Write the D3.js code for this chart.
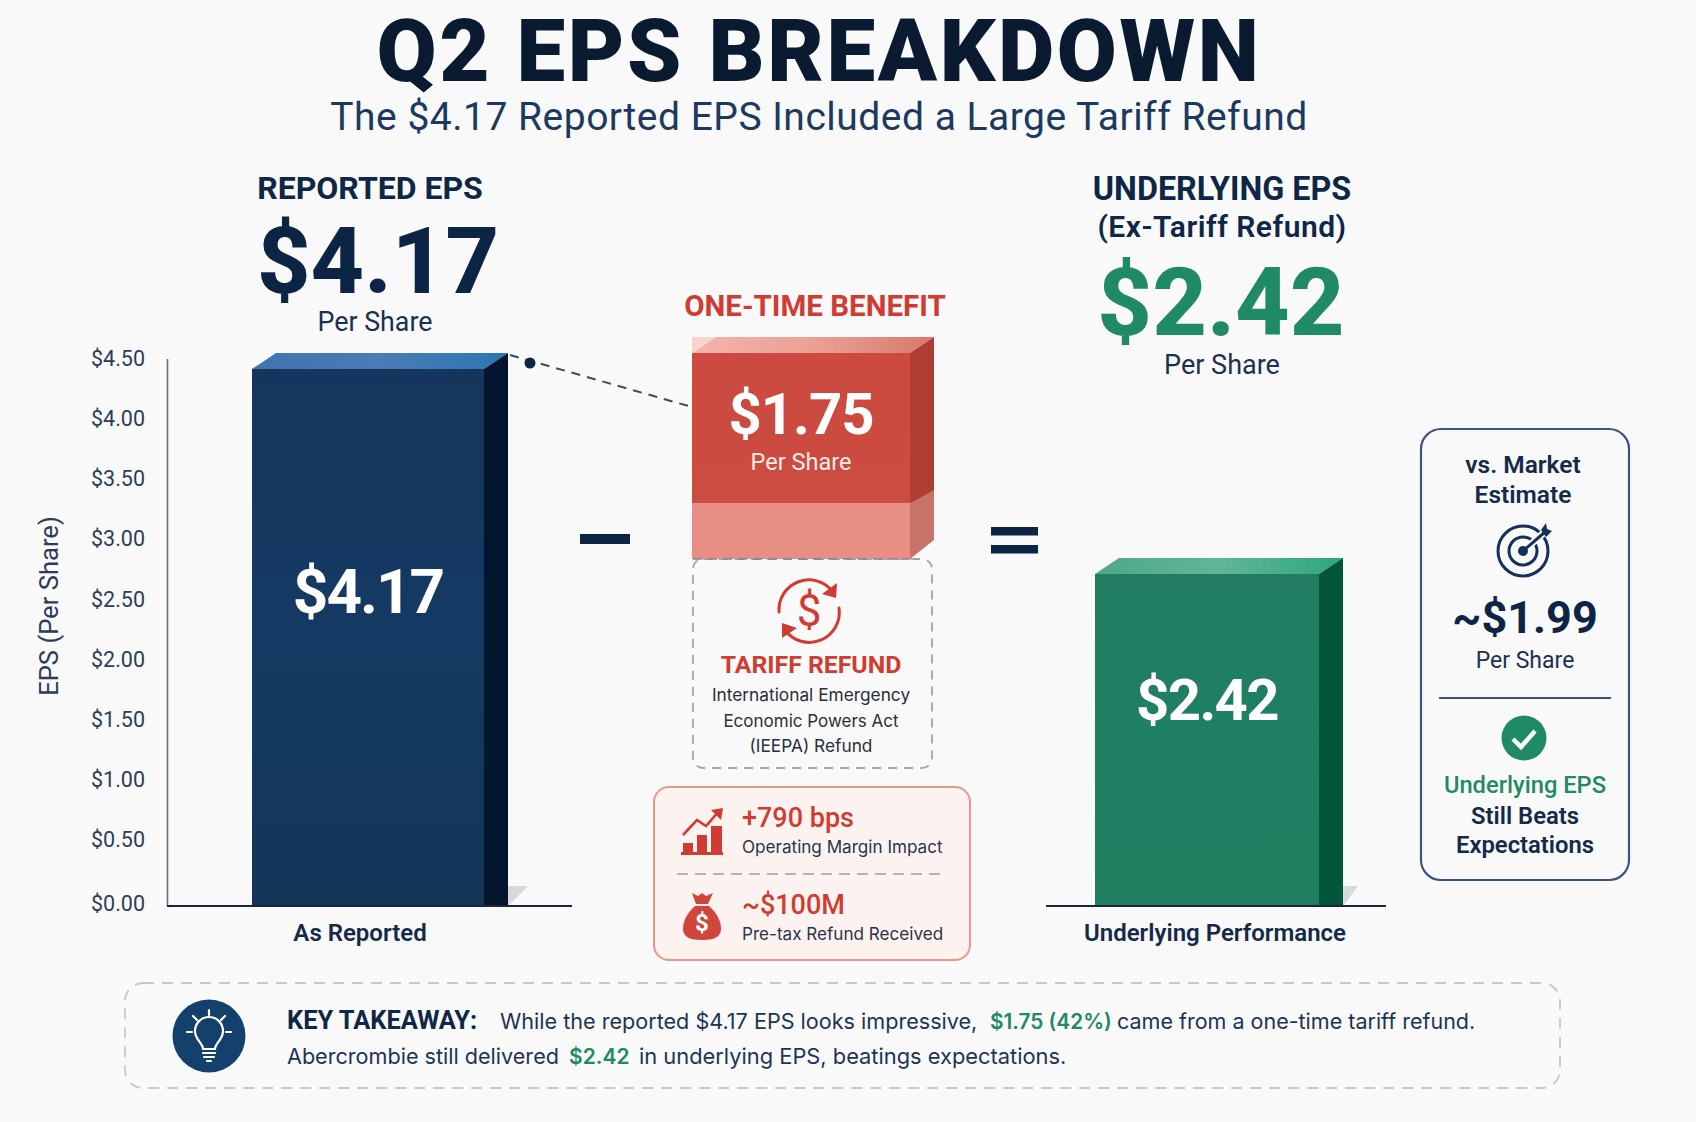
<!DOCTYPE html>
<html>
<head>
<meta charset="utf-8">
<title>Q2 EPS Breakdown</title>
<script src="https://cdn.jsdelivr.net/npm/d3@7"></script>
<style>
  html, body { margin: 0; padding: 0; background: #f9f9f9; }
  svg { display: block; }
  text { font-family: Roboto, sans-serif; }
  .body { font-family: Inter, sans-serif; }
</style>
</head>
<body>
<div id="chart"></div>
<script>
// Chart data
var tickValues = [0, 0.5, 1, 1.5, 2, 2.5, 3, 3.5, 4, 4.5];
var barCategories = ["As Reported", "Underlying Performance"];
var barValues = [4.17, 2.42];
var refundSegments = [1.75, 0.65];
var marketEstimate = 1.99;

var navy = "#0c2545", ink = "#1c3454", red = "#d03c31", green = "#1f8a65";
var svgWidth = 1696, svgHeight = 1122;
var baseY = 906, depthX = 24, depthY = 16;
var money = d3.format("$.2f");

var svg = d3.select("#chart").append("svg")
  .attr("width", svgWidth)
  .attr("height", svgHeight);

svg.append("rect").attr("width", svgWidth).attr("height", svgHeight).attr("fill", "#f9f9f9");

var defs = svg.append("defs");
function gradient(id, horizontal, stops) {
  var g = defs.append("linearGradient").attr("id", id)
    .attr("x1", 0).attr("y1", 0)
    .attr("x2", horizontal ? 1 : 0).attr("y2", horizontal ? 0 : 1);
  stops.forEach((c, i) => g.append("stop").attr("offset", i / (stops.length - 1)).attr("stop-color", c));
}
gradient("blueFront", false, ["#15355d", "#143a63", "#133659"]);
gradient("blueTop", true, ["#3f74ae", "#4a7cb5", "#2b76b3"]);
gradient("greenFront", false, ["#217c61", "#1f8063", "#207e60"]);
gradient("greenTop", true, ["#4ea788", "#62b498", "#2ba77f"]);
gradient("redTop", true, ["#f4b5ab", "#eba095", "#d8786c"]);
gradient("redFront", false, ["#cc4a40", "#cb4c41"]);

function label(x, y, str, size, weight, fill, anchor, cls) {
  return svg.append("text")
    .attr("x", x).attr("y", y)
    .attr("font-size", size)
    .attr("font-weight", weight || 400)
    .attr("fill", fill || ink)
    .attr("text-anchor", anchor || "middle")
    .attr("class", cls || null)
    .text(str);
}

// front, top and side faces of a box
function box(x0, x1, yTop, yBottom, front, top, side, sideBottom) {
  var g = svg.append("g");
  if (top) {
    g.append("path")
      .attr("d", `M${x0},${yTop}L${x0 + depthX},${yTop - depthY}L${x1 + depthX},${yTop - depthY}L${x1},${yTop}Z`)
      .attr("fill", top);
  }
  var sb = sideBottom === undefined ? yBottom : sideBottom;
  g.append("path")
    .attr("d", `M${x1},${yTop}L${x1 + depthX},${yTop - depthY}L${x1 + depthX},${sb}L${x1},${yBottom}Z`)
    .attr("fill", side);
  g.append("rect")
    .attr("x", x0).attr("y", yTop)
    .attr("width", x1 - x0).attr("height", yBottom - yTop)
    .attr("fill", front);
}

// Title
label(819, 81, "Q2 EPS BREAKDOWN", 87, 900, "#0a1a30").attr("letter-spacing", 2.6);
label(819, 130, "The $4.17 Reported EPS Included a Large Tariff Refund", 39, 400, "#1c3a60").attr("letter-spacing", 0.5);

// Y axis
var yAxisScale = d3.scaleLinear().domain([0, 0.5, 4.5]).range([904, 840, 358.5]);
var yAxis = d3.axisLeft(yAxisScale).tickValues(tickValues).tickSize(0).tickPadding(0).tickFormat(money);
var axisG = svg.append("g").attr("transform", "translate(145, 0)").call(yAxis);
axisG.select(".domain").remove();
axisG.selectAll("text").attr("font-size", 21.5).attr("font-family", "Roboto, sans-serif").attr("fill", "#2b3d58");

svg.append("line").attr("x1", 167.5).attr("x2", 167.5).attr("y1", 359).attr("y2", baseY)
  .attr("stroke", "#66707f").attr("stroke-width", 1.6);
svg.append("text")
  .attr("transform", "translate(58, 606) rotate(-90)")
  .attr("text-anchor", "middle").attr("font-size", 25.6).attr("fill", "#2b3d58")
  .text("EPS (Per Share)");

// Bar panels, each with its own scale
var xReported = d3.scaleBand().domain([barCategories[0]]).range([252, 484]);
var yReported = d3.scaleLinear().domain([0, barValues[0]]).range([baseY, 369]);
var xUnderlying = d3.scaleBand().domain([barCategories[1]]).range([1095, 1319]);
var yUnderlying = d3.scaleLinear().domain([0, barValues[1]]).range([baseY, 574]);

// floor shadows
svg.append("path").attr("d", `M508,${baseY}L528,886L508,886Z`).attr("fill", "#d6d8da");
svg.append("path").attr("d", `M1343,${baseY}L1358,886L1343,886Z`).attr("fill", "#d6d8da");

box(xReported.range()[0], xReported.range()[1], yReported(barValues[0]), baseY, "url(#blueFront)", "url(#blueTop)", "#04162e");
box(xUnderlying.range()[0], xUnderlying.range()[1], yUnderlying(barValues[1]), baseY, "url(#greenFront)", "url(#greenTop)", "#03553a");

// baselines
svg.append("line").attr("x1", 167).attr("x2", 572).attr("y1", baseY).attr("y2", baseY).attr("stroke", "#1b2738").attr("stroke-width", 1.8);
svg.append("line").attr("x1", 1046).attr("x2", 1386).attr("y1", baseY).attr("y2", baseY).attr("stroke", "#1b2738").attr("stroke-width", 1.8);

label(368, 613, money(barValues[0]), 62, 700, "#fff").attr("letter-spacing", -2);
label(1207, 720, money(barValues[1]), 58, 700, "#fff").attr("letter-spacing", -1.6);
label(360, 941, barCategories[0], 24, 600, "#15294a");
label(1215, 941, barCategories[1], 24, 600, "#15294a");

// Reported header
label(370, 199, "REPORTED EPS", 32, 700, "#0f2747");
label(378, 293, money(barValues[0]), 93, 800, navy);
label(375, 331, "Per Share", 26.8, 400, "#1c3050");

// Underlying header
label(1222, 200, "UNDERLYING EPS", 32.3, 700, "#0f2747");
label(1222, 237, "(Ex-Tariff Refund)", 30, 600, "#0f2747").attr("letter-spacing", 0.5);
label(1221, 335, money(barValues[1]), 95, 800, green);
label(1222, 374, "Per Share", 27, 400, "#1c3050");

// Connector from reported bar to refund block
svg.append("line").attr("x1", 510).attr("y1", 355).attr("x2", 692).attr("y2", 407)
  .attr("stroke", "#3b4a60").attr("stroke-width", 2).attr("stroke-dasharray", "9 7");
svg.append("circle").attr("cx", 530).attr("cy", 363).attr("r", 5.5).attr("fill", navy);

// Operators
svg.append("rect").attr("x", 580).attr("y", 534).attr("width", 50).attr("height", 10).attr("fill", navy);
svg.append("rect").attr("x", 991).attr("y", 527).attr("width", 47).attr("height", 8.5).attr("fill", navy);
svg.append("rect").attr("x", 991).attr("y", 545).attr("width", 47).attr("height", 8.5).attr("fill", navy);

// One-time benefit block
var yRefund = d3.scaleLinear().domain([0, d3.sum(refundSegments)]).range([559, 353]);
var solidBottom = yRefund(refundSegments[1]);
label(815, 316, "ONE-TIME BENEFIT", 29.5, 700, red);

svg.append("rect").attr("x", 693).attr("y", 559).attr("width", 239).attr("height", 209).attr("rx", 10)
  .attr("fill", "none").attr("stroke", "#a8a2a8").attr("stroke-width", 1.8).attr("stroke-dasharray", "9 7");

box(692, 910, solidBottom, yRefund(0), "#e88e84", null, "#c8736a", 540);
box(692, 910, yRefund(d3.sum(refundSegments)), solidBottom, "url(#redFront)", "url(#redTop)", "#ae3e33", 490);
// pale corner left of the top face
svg.append("path").attr("d", "M692,353L692,337L716,337Z").attr("fill", "#f8d6cf");
svg.append("line").attr("x1", 693).attr("x2", 910).attr("y1", 559).attr("y2", 559)
  .attr("stroke", "#6d88a8").attr("stroke-width", 1.6).attr("stroke-dasharray", "9 6");

label(801, 434, money(refundSegments[0]), 58, 700, "#fff").attr("letter-spacing", -1);
label(801, 470, "Per Share", 23.5, 400, "#fde9e6");

// Refund icon
var refundIcon = svg.append("g").attr("fill", "none").attr("stroke", red).attr("stroke-width", 3).attr("stroke-linecap", "round");
refundIcon.append("path").attr("d", "M779,612A30,30 0 0 1 833,592");
refundIcon.append("path").attr("d", "M839,608A30,30 0 0 1 785,630");
svg.append("path").attr("d", "M837,583L836,598L822,594Z").attr("fill", red);
svg.append("path").attr("d", "M782,638L782,623L797,628Z").attr("fill", red);
label(809, 626, "$", 44, 400, red);

label(811, 673, "TARIFF REFUND", 24.8, 700, red);
label(811, 701, "International Emergency", 17.3, 400, "#2a2f3a", null, "body");
label(811, 727, "Economic Powers Act", 17, 400, "#2a2f3a", null, "body");
label(811, 752, "(IEEPA) Refund", 17.3, 400, "#2a2f3a", null, "body");

// Impact box
svg.append("rect").attr("x", 654).attr("y", 787).attr("width", 316).attr("height", 173).attr("rx", 15)
  .attr("fill", "#fcf3f0").attr("stroke", "#e9968b").attr("stroke-width", 2);
svg.append("line").attr("x1", 677).attr("x2", 946).attr("y1", 874).attr("y2", 874)
  .attr("stroke", "#8fa0b4").attr("stroke-width", 1.6).attr("stroke-dasharray", "11 7");

// trend icon
var trendIcon = svg.append("g").attr("fill", red);
[[683, 843, 10], [697, 835, 10], [711, 826, 11]].forEach(function(b) {
  trendIcon.append("rect").attr("x", b[0]).attr("y", b[1]).attr("width", b[2]).attr("height", 854 - b[1]);
});
trendIcon.append("rect").attr("x", 681).attr("y", 852).attr("width", 42).attr("height", 3);
trendIcon.append("path").attr("d", "M683,835L697,820L706,826L719,811").attr("fill", "none").attr("stroke", red).attr("stroke-width", 2.6);
trendIcon.append("path").attr("d", "M723,808L721,820L711,810Z");

// money bag icon
var bagIcon = svg.append("g").attr("fill", "#d0463b");
bagIcon.append("path").attr("d", "M692,893L698,896L702,893L706,896L713,893L708,904L696,904Z");
bagIcon.append("path").attr("d", "M695,906C686,914 683,922 683,929C683,937 690,940 702,940C714,940 721,937 721,929C721,922 718,914 709,906Z");
label(702, 931, "$", 24, 700, "#fff");

label(742, 827, "+790 bps", 27, 500, red, "start");
label(742, 853, "Operating Margin Impact", 17.1, 400, "#2a3348", "start", "body");
label(742, 914, "~$100M", 27, 500, red, "start");
label(742, 940, "Pre-tax Refund Received", 17.1, 400, "#2a3348", "start", "body");

// Market estimate card
svg.append("rect").attr("x", 1421).attr("y", 429).attr("width", 208).attr("height", 451).attr("rx", 20)
  .attr("fill", "none").attr("stroke", "#3d5580").attr("stroke-width", 2.2);
label(1523, 473, "vs. Market", 24.5, 600, "#15294a");
label(1523, 503, "Estimate", 24.5, 600, "#15294a");

var target = svg.append("g").attr("fill", "none").attr("stroke", "#15305a").attr("stroke-width", 3);
target.append("circle").attr("cx", 1523).attr("cy", 551).attr("r", 25);
target.append("circle").attr("cx", 1523).attr("cy", 551).attr("r", 14);
target.append("line").attr("x1", 1523).attr("y1", 551).attr("x2", 1547).attr("y2", 530).attr("stroke", "#f9f9f9").attr("stroke-width", 7);
target.append("line").attr("x1", 1523).attr("y1", 551).attr("x2", 1545).attr("y2", 532);
svg.append("circle").attr("cx", 1523).attr("cy", 551).attr("r", 5).attr("fill", "#15305a");
svg.append("path").attr("d", "M1541,530L1546,523L1547,529L1552,531L1546,537Z").attr("fill", "#15305a");

label(1525, 633, "~" + money(marketEstimate), 45, 700, navy);
label(1525, 668, "Per Share", 23, 400, "#1c3050");
svg.append("line").attr("x1", 1439).attr("x2", 1611).attr("y1", 698).attr("y2", 698).attr("stroke", "#3d5580").attr("stroke-width", 2);
svg.append("circle").attr("cx", 1524).attr("cy", 738).attr("r", 22.5).attr("fill", green);
svg.append("path").attr("d", "M1513,739L1521,747L1535,731").attr("fill", "none").attr("stroke", "#fff").attr("stroke-width", 4.5);
label(1525, 793, "Underlying EPS", 23.7, 500, green);
label(1525, 824, "Still Beats", 23.8, 600, "#15294a");
label(1525, 853, "Expectations", 23.8, 600, "#15294a");

// Key takeaway
svg.append("rect").attr("x", 125).attr("y", 983).attr("width", 1435).attr("height", 105).attr("rx", 18)
  .attr("fill", "none").attr("stroke", "#c6c9d0").attr("stroke-width", 1.8).attr("stroke-dasharray", "11 8");
svg.append("circle").attr("cx", 209).attr("cy", 1036).attr("r", 36.5).attr("fill", "#14406c");
var bulb = svg.append("g").attr("fill", "none").attr("stroke", "#fff").attr("stroke-width", 2.2).attr("stroke-linecap", "round");
bulb.append("path").attr("d", "M203,1049C203,1043 195,1040 195,1031A14,14 0 1 1 223,1031C223,1040 215,1043 215,1049Z");
bulb.append("path").attr("d", "M203,1053L215,1053M204,1057L214,1057M207,1061L211,1061");
bulb.append("path").attr("d", "M209,1010L209,1015M193,1016L197,1020M225,1016L221,1020M187,1032L192,1032M231,1032L226,1032");

label(287, 1029, "KEY TAKEAWAY:", 25.4, 700, "#0f2747", "start");
label(500, 1029, "While the reported $4.17 EPS looks impressive,", 21.6, 400, ink, "start", "body");
label(990, 1029, "$1.75 (42%)", 20.8, 600, green, "start", "body");
label(1117, 1029, "came from a one-time tariff refund.", 21.5, 400, ink, "start", "body");
label(287, 1064, "Abercrombie still delivered", 21.6, 400, ink, "start", "body");
label(569, 1064, "$2.42", 21, 600, green, "start", "body");
label(639, 1064, "in underlying EPS, beatings expectations.", 21.85, 400, ink, "start", "body");
</script>
</body>
</html>
